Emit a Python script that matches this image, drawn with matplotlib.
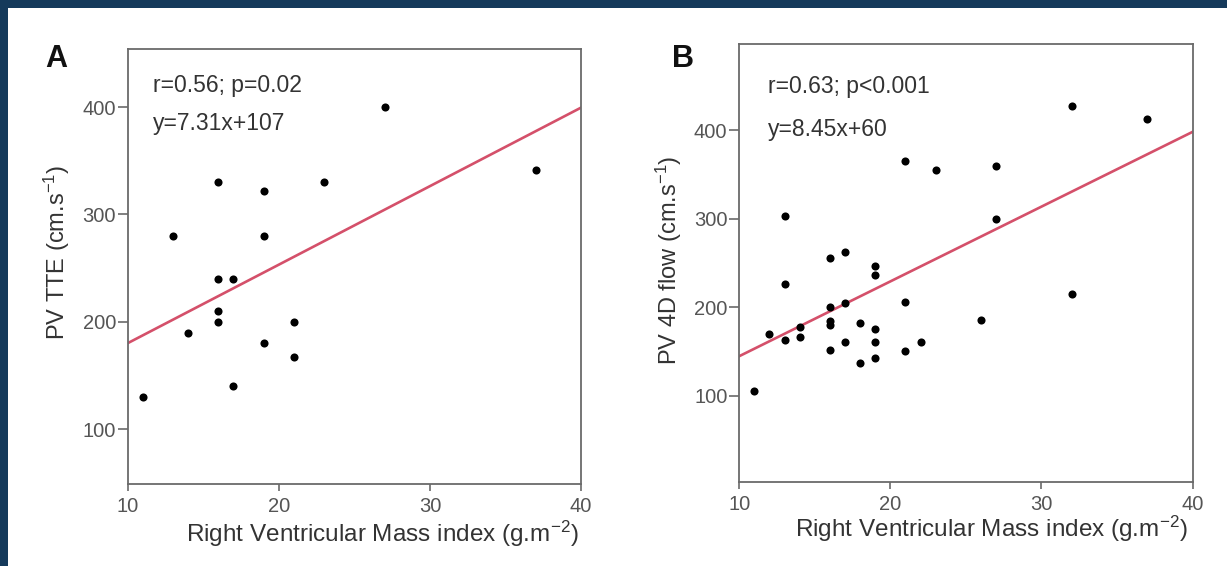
import numpy as np
import matplotlib
matplotlib.use('Agg')
import matplotlib.pyplot as plt
from matplotlib.patches import Rectangle

plt.rcParams['font.family'] = ['Liberation Sans', 'DejaVu Sans']
plt.rcParams['mathtext.fontset'] = 'custom'
plt.rcParams['mathtext.rm'] = 'Liberation Sans'
plt.rcParams['mathtext.it'] = 'Liberation Sans:italic'
plt.rcParams['mathtext.bf'] = 'Liberation Sans:bold'

# Panel A: RV mass index vs PV velocity by TTE
rvmi_a = [11, 13, 14, 16, 16, 16, 16, 17, 17, 19, 19, 19, 21, 21, 23, 27, 37]
pv_tte = [130, 280, 190, 330, 240, 210, 200, 240, 140, 322, 280, 180, 200, 167, 330, 400, 341]
slope_a, icpt_a = 7.31, 107

# Panel B: RV mass index vs PV velocity by 4D flow
rvmi_b = [11, 12, 13, 13, 13, 14, 14, 16, 16, 16, 16, 16, 17, 17, 17, 18, 18,
          19, 19, 19, 19, 19, 21, 21, 21, 22, 23, 26, 27, 27, 32, 32, 37]
pv_4d = [105, 170, 303, 226, 163, 177, 166, 256, 200, 184, 180, 152, 262, 205, 161, 182, 137,
         246, 236, 175, 161, 142, 365, 206, 150, 161, 355, 185, 360, 300, 427, 215, 413]
slope_b, icpt_b = 8.45, 60

W, H = 1227, 566
navy = '#153a5b'
line_red = '#d4506a'
spine_col = '#6a6a6a'
tick_col = '#555555'
text_col = '#333333'

fig = plt.figure(figsize=(W / 100, H / 100), dpi=100, facecolor=navy)
fig.patches.append(Rectangle((8 / W, 0), 1 - 8 / W, 1 - 8 / H, transform=fig.transFigure,
                             facecolor='white', edgecolor='none', zorder=-10))


def panel(rect, x, y, slope, icpt, ylim, ylabel, stats, eq, letter, letter_pos,
          txt_y, ylab_x, ylab_y, xlab_x, xlab_y):
    ax = fig.add_axes(rect)
    ax.scatter(x, y, s=34, color='black', zorder=3, linewidths=0)
    xs = np.array([10, 40])
    ax.plot(xs, slope * xs + icpt, color=line_red, lw=1.9, zorder=2)
    ax.set_xlim(10, 40)
    ax.set_ylim(*ylim)
    ax.set_xticks([10, 20, 30, 40])
    ax.set_yticks([100, 200, 300, 400])
    for s in ax.spines.values():
        s.set_color(spine_col)
        s.set_linewidth(1.3)
    ax.tick_params(axis='x', length=5, width=1.2, color=spine_col, labelcolor=tick_col,
                   labelsize=14.5, pad=4)
    ax.tick_params(axis='y', length=7, width=1.2, color=spine_col, labelcolor=tick_col,
                   labelsize=14.5, pad=1.5)
    ax.text(txt_y[0], txt_y[1], stats, transform=ax.transAxes, fontsize=16.5,
            color=text_col, va='baseline', ha='left')
    ax.text(txt_y[0], txt_y[2], eq, transform=ax.transAxes, fontsize=16.5,
            color=text_col, va='baseline', ha='left')
    ax.text(ylab_x, ylab_y, ylabel, transform=ax.transAxes, fontsize=17, color=text_col,
            rotation=90, rotation_mode='anchor', ha='center', va='baseline')
    ax.text(xlab_x, xlab_y, r'Right Ventricular Mass index (g.m$^{-2}$)', transform=ax.transAxes,
            fontsize=17.5, color=text_col, ha='center', va='baseline')
    fig.text(letter_pos[0], letter_pos[1], letter, fontsize=22, fontweight='bold',
             color='#111111', ha='left', va='baseline')
    return ax


panel([127.7 / W, 1 - 484 / H, 453.3 / W, 435 / H], rvmi_a, pv_tte, slope_a, icpt_a,
      (49, 454), r'PV TTE (cm.s$^{-1}$)', 'r=0.56; p=0.02', 'y=7.31x+107', 'A',
      (45 / W, 1 - 67 / H), (0.055, 0.902, 0.814), -0.138, 0.532, 0.562, -0.1326)

panel([739.2 / W, 1 - 482.3 / H, 453.3 / W, 438 / H], rvmi_b, pv_4d, slope_b, icpt_b,
      (2, 497), r'PV 4D flow (cm.s$^{-1}$)', 'r=0.63; p<0.001', 'y=8.45x+60', 'B',
      (671.7 / W, 1 - 66.7 / H), (0.064, 0.888, 0.791), -0.137, 0.507, 0.557, -0.1256)

fig.savefig('out.png', dpi=100, facecolor=navy)
